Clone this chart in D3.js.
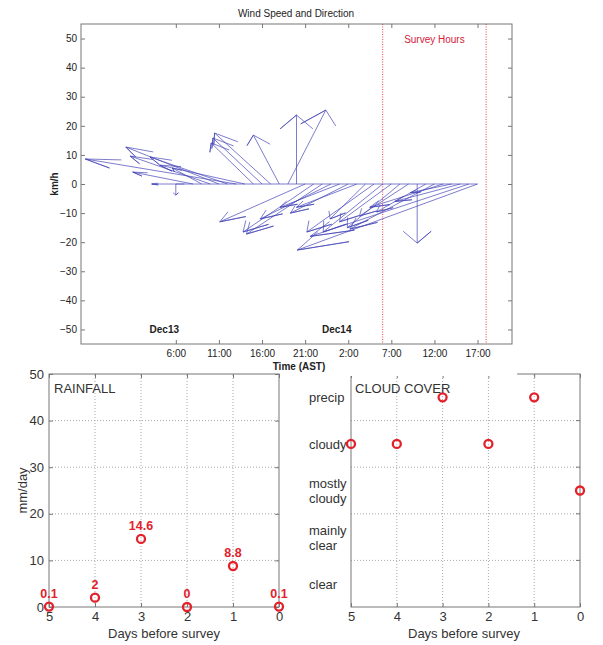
<!DOCTYPE html>
<html><head><meta charset="utf-8">
<script src="https://cdn.jsdelivr.net/npm/d3@7"></script>
<style>
body{margin:0;background:#fff;}
text{font-family:"Liberation Sans",Arial,Helvetica,sans-serif;}
</style>
</head><body>
<svg id="c" width="603" height="645"></svg>
<script>
// ---------- DATA ----------
const windDomain = ["2010-12-12T19:00", "2010-12-14T21:00"];
const windFirstHour = "2010-12-13T06:00"; // hourly observations start here
// wind components (km/h); east-west component plotted along the time axis (1 km/h = 1 hour)
const windU = [0, -3.8, -7.0, -3.4, -9.3, -10.8, -9.0, -17.5, -9.9, -4.9, -5.7, -6.5, -3.0, 4.4, 0,
  -9.9, -8.2, -8.8, -8.2, -6.9, -6.7, -7.0, -4.1, -7.8, -6.9, -6.0, -6.1, -5.7, 0, -5.7, -9.8, -8.5, -4.8, -7.6, -18.4, -20.9];
const windV = [-3.8, 0, 4.1, 5.5, 9.6, 12.7, 9.3, 8.6, 6.5, 14.1, 15.8, 17.5, 16.8, 25.4, 23.7,
  -13, -16.5, -17.2, -12, -8, -10, -8, -12, -16.5, -16.5, -13, -15, -11, -20.3, -9.6, -15.5, -8, -3, -6, -18, -22.7];
const timeTicks = ["2010-12-13T06:00","2010-12-13T11:00","2010-12-13T16:00","2010-12-13T21:00",
  "2010-12-14T02:00","2010-12-14T07:00","2010-12-14T12:00","2010-12-14T17:00"];
const timeTickLabels = ["6:00","11:00","16:00","21:00","2:00","7:00","12:00","17:00"];
const windYTicks = [-50,-40,-30,-20,-10,0,10,20,30,40,50];
const dayNames = ["Dec13","Dec14"];
const dayNameTimes = ["2010-12-13T04:40","2010-12-14T00:40"];
const surveyHours = ["2010-12-14T06:00","2010-12-14T18:00"];

const days = [5,4,3,2,1,0];
const rainfall = [0.1, 2, 14.6, 0, 8.8, 0.1];
const rainLabels = ["0.1","2","14.6","0","8.8","0.1"];
const rainYTicks = [0,10,20,30,40,50];
const cloudCategories = ["clear","mainly clear","mostly cloudy","cloudy","precip"];
const cloudCover = ["cloudy","cloudy","precip","cloudy","precip","mostly cloudy"];

// ---------- SETUP ----------
const svg = d3.select("#c");
const parse = d3.timeParse("%Y-%m-%dT%H:%M");
const AX = "#777", TXT = "#222", RED = "#e3212b";
const HOUR = 3600e3;
const FS_TOP = 10, FS_BOT = 13;

// ---------- TOP: wind feather plot ----------
const wx = d3.scaleTime().domain(windDomain.map(parse)).range([81, 512]);
const wy = d3.scaleLinear().domain([-55, 55]).range([344, 24]);
const topG = svg.append("g");

topG.append("text").attr("x", 296).attr("y", 17).attr("text-anchor","middle")
  .attr("font-size", FS_TOP).attr("fill", TXT).text("Wind Speed and Direction");

topG.append("rect").attr("x", wx.range()[0]).attr("y", wy.range()[1])
  .attr("width", wx.range()[1]-wx.range()[0]).attr("height", wy.range()[0]-wy.range()[1])
  .attr("fill","none").attr("stroke", AX);

const tickDates = timeTicks.map(parse);
const gxb = topG.append("g").attr("transform", `translate(0,${wy.range()[0]})`)
  .call(d3.axisBottom(wx).tickValues(tickDates).tickSizeInner(-4).tickSizeOuter(0).tickPadding(6)
    .tickFormat((d,i) => timeTickLabels[i]));
const gxt = topG.append("g").attr("transform", `translate(0,${wy.range()[1]})`)
  .call(d3.axisTop(wx).tickValues(tickDates).tickSizeInner(-4).tickSizeOuter(0).tickFormat(""));
const gyl = topG.append("g").attr("transform", `translate(${wx.range()[0]},0)`)
  .call(d3.axisLeft(wy).tickValues(windYTicks).tickSizeInner(-4).tickSizeOuter(0).tickPadding(4));
const gyr = topG.append("g").attr("transform", `translate(${wx.range()[1]},0)`)
  .call(d3.axisRight(wy).tickValues(windYTicks).tickSizeInner(-4).tickSizeOuter(0).tickFormat(""));
[gxb,gxt,gyl,gyr].forEach(g => {
  g.select(".domain").remove();
  g.selectAll("line").attr("stroke", AX);
  g.selectAll("text").attr("font-size", FS_TOP).attr("fill", TXT).attr("font-family", null);
});

topG.append("text").attr("x", 299).attr("y", 370).attr("text-anchor","middle")
  .attr("font-size", 10).attr("font-weight","bold").attr("fill", TXT).text("Time (AST)");
topG.append("text").attr("transform", `translate(58,${wy(0)}) rotate(-90)`).attr("text-anchor","middle")
  .attr("font-size", 10).attr("font-weight","bold").attr("fill", TXT).text("km/h");

topG.selectAll("text.day").data(dayNames).join("text").attr("class","day")
  .attr("x", (d,i) => wx(parse(dayNameTimes[i]))).attr("y", wy(-50) + 4)
  .attr("text-anchor","middle").attr("font-size", 10).attr("font-weight","bold").attr("fill", TXT)
  .text(d => d);

topG.selectAll("line.survey").data(surveyHours).join("line").attr("class","survey")
  .attr("x1", d => wx(parse(d))).attr("x2", d => wx(parse(d)))
  .attr("y1", wy.range()[1]).attr("y2", wy.range()[0])
  .attr("stroke", RED).attr("stroke-width", 1).attr("stroke-dasharray","1,1.5").attr("opacity",0.85);
topG.append("text")
  .attr("x", (wx(parse(surveyHours[0])) + wx(parse(surveyHours[1]))) / 2)
  .attr("y", wy(50) + 4).attr("text-anchor","middle").attr("font-size", FS_TOP)
  .attr("fill", "#d4203a").text("Survey Hours");

// feather arrows
const t0 = parse(windFirstHour).getTime();
const arrows = windU.map((u,i) => ({t: t0 + i*HOUR, u, v: windV[i]}));
const P = (t, dh, v) => [wx(new Date(t + dh*HOUR)), wy(v)];
const ARROW = "rgba(70,70,185,0.7)";
topG.append("line")
  .attr("x1", wx(new Date(arrows[0].t))).attr("x2", wx(new Date(arrows[arrows.length-1].t)))
  .attr("y1", wy(0)).attr("y2", wy(0)).attr("stroke", ARROW).attr("stroke-width", 1);
topG.append("g").selectAll("path").data(arrows).join("path")
  .attr("d", a => d3.line()([
      P(a.t, 0, 0),
      P(a.t, a.u, a.v),
      P(a.t, 0.8*a.u - 0.08*a.v, 0.8*a.v + 0.08*a.u),
      P(a.t, a.u, a.v),
      P(a.t, 0.8*a.u + 0.08*a.v, 0.8*a.v - 0.08*a.u)
    ]))
  .attr("fill","none").attr("stroke", ARROW).attr("stroke-width", 1);

// ---------- BOTTOM ----------
function panel(x0, x1) {
  const g = svg.append("g");
  const x = d3.scaleLinear().domain([5, 0]).range([x0, x1]);
  return {g, x};
}
const by0 = 607, by1 = 374;
const GRID = "#aaa";

// rainfall
const rp = panel(49, 279);
const ry = d3.scaleLinear().domain([0, 50]).range([by0, by1]);
rp.g.selectAll("line.gx").data(days.slice(1,5)).join("line")
  .attr("x1", d => rp.x(d)).attr("x2", d => rp.x(d)).attr("y1", by0).attr("y2", by1)
  .attr("stroke", GRID).attr("stroke-dasharray","1,2");
rp.g.selectAll("line.gy").data(rainYTicks.slice(1,5)).join("line")
  .attr("x1", rp.x.range()[0]).attr("x2", rp.x.range()[1]).attr("y1", d => ry(d)).attr("y2", d => ry(d))
  .attr("stroke", GRID).attr("stroke-dasharray","1,2");
rp.g.append("rect").attr("x", rp.x.range()[0]).attr("y", by1)
  .attr("width", rp.x.range()[1]-rp.x.range()[0]).attr("height", by0-by1)
  .attr("fill","none").attr("stroke", AX);
const rxa = rp.g.append("g").attr("transform", `translate(0,${by0})`)
  .call(d3.axisBottom(rp.x).tickValues(days).tickSizeInner(-4).tickSizeOuter(0).tickPadding(5).tickFormat(d3.format("d")));
const rxt = rp.g.append("g").attr("transform", `translate(0,${by1})`)
  .call(d3.axisTop(rp.x).tickValues(days).tickSizeInner(-4).tickSizeOuter(0).tickFormat(""));
const rya = rp.g.append("g").attr("transform", `translate(${rp.x.range()[0]},0)`)
  .call(d3.axisLeft(ry).tickValues(rainYTicks).tickSizeInner(-4).tickSizeOuter(0).tickPadding(5));
const ryr = rp.g.append("g").attr("transform", `translate(${rp.x.range()[1]},0)`)
  .call(d3.axisRight(ry).tickValues(rainYTicks).tickSizeInner(-4).tickSizeOuter(0).tickFormat(""));
[rxa,rxt,rya,ryr].forEach(g => {
  g.select(".domain").remove();
  g.selectAll("line").attr("stroke", AX);
  g.selectAll("text").attr("font-size", FS_BOT).attr("fill", "#333").attr("font-family", null);
});
rp.g.append("text").attr("x", 54).attr("y", 393).attr("font-size", FS_BOT).attr("fill","#333").text("RAINFALL");
rp.g.append("text").attr("x", 164).attr("y", 638).attr("text-anchor","middle")
  .attr("font-size", FS_BOT).attr("fill","#333").text("Days before survey");
rp.g.append("text").attr("transform", `translate(27,${(by0+by1)/2}) rotate(-90)`).attr("text-anchor","middle")
  .attr("font-size", FS_BOT).attr("fill","#333").text("mm/day");
rp.g.selectAll("circle").data(rainfall).join("circle")
  .attr("cx", (d,i) => rp.x(days[i])).attr("cy", d => ry(d)).attr("r", 4)
  .attr("fill","none").attr("stroke", RED).attr("stroke-width", 2.3);
rp.g.selectAll("text.val").data(rainfall).join("text").attr("class","val")
  .attr("x", (d,i) => rp.x(days[i])).attr("y", d => ry(d) - 9)
  .attr("text-anchor","middle").attr("font-size", 12.5).attr("font-weight","bold").attr("fill", RED)
  .text((d,i) => rainLabels[i]);

// cloud cover
const cp = panel(351, 580);
const cy = d3.scaleBand().domain(cloudCategories).range([by0, by1]).padding(0);
const bounds = cloudCategories.slice(1).map(c => cy(c) + cy.bandwidth());
cp.g.selectAll("line.gx").data(days.slice(1,5)).join("line")
  .attr("x1", d => cp.x(d)).attr("x2", d => cp.x(d)).attr("y1", by0).attr("y2", by1)
  .attr("stroke", GRID).attr("stroke-dasharray","1,2");
cp.g.selectAll("line.gy").data(bounds).join("line")
  .attr("x1", cp.x.range()[0]).attr("x2", cp.x.range()[1]).attr("y1", d => d).attr("y2", d => d)
  .attr("stroke", GRID).attr("stroke-dasharray","1,2");
cp.g.append("rect").attr("x", cp.x.range()[0]).attr("y", by1)
  .attr("width", cp.x.range()[1]-cp.x.range()[0]).attr("height", by0-by1)
  .attr("fill","none").attr("stroke", AX);
cp.g.selectAll("line.rt").data(bounds).join("line")
  .attr("x1", cp.x.range()[1]).attr("x2", cp.x.range()[1]-4).attr("y1", d => d).attr("y2", d => d)
  .attr("stroke", AX);
const cxa = cp.g.append("g").attr("transform", `translate(0,${by0})`)
  .call(d3.axisBottom(cp.x).tickValues(days).tickSizeInner(-4).tickSizeOuter(0).tickPadding(5).tickFormat(d3.format("d")));
const cxt = cp.g.append("g").attr("transform", `translate(0,${by1})`)
  .call(d3.axisTop(cp.x).tickValues(days).tickSizeInner(-4).tickSizeOuter(0).tickFormat(""));
[cxa,cxt].forEach(g => {
  g.select(".domain").remove();
  g.selectAll("line").attr("stroke", AX);
  g.selectAll("text").attr("font-size", FS_BOT).attr("fill", "#333").attr("font-family", null);
});
const catG = cp.g.selectAll("text.cat").data(cloudCategories).join("text").attr("class","cat")
  .attr("x", 309).attr("font-size", FS_BOT).attr("fill","#333");
catG.each(function(c) {
  const words = c.split(" ");
  const yc = cy(c) + cy.bandwidth()/2;
  const t = d3.select(this);
  words.forEach((w, k) => {
    t.append("tspan").attr("x", 309)
      .attr("y", yc + 5 + (k - (words.length-1)/2) * 15).text(w);
  });
});
cp.g.append("text").attr("x", 355).attr("y", 393).attr("font-size", FS_BOT).attr("fill","#333").text("CLOUD COVER");
cp.g.append("text").attr("x", 464).attr("y", 638).attr("text-anchor","middle")
  .attr("font-size", FS_BOT).attr("fill","#333").text("Days before survey");
cp.g.selectAll("circle").data(cloudCover).join("circle")
  .attr("cx", (d,i) => cp.x(days[i])).attr("cy", d => cy(d) + cy.bandwidth()/2).attr("r", 4)
  .attr("fill","none").attr("stroke", RED).attr("stroke-width", 2.3);

// the upper figure's paper edge hides part of the cloud panel's top border
svg.append("rect").attr("x", cp.x.range()[0] - 1).attr("y", by1 - 2)
  .attr("width", cp.x(1.35) - cp.x.range()[0]).attr("height", 4).attr("fill", "#fff");
</script>
</body></html>
